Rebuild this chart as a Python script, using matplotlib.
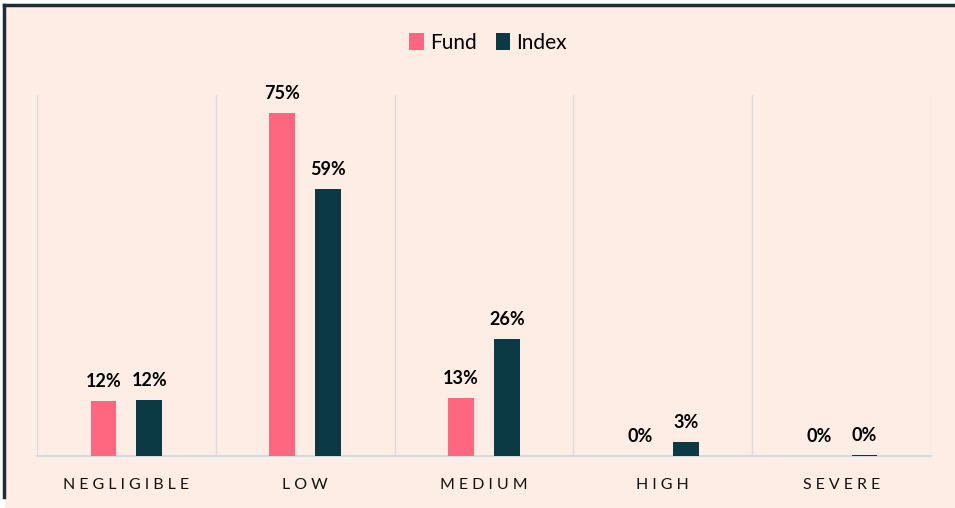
import matplotlib.pyplot as plt
import numpy as np
from matplotlib.patches import Rectangle
from matplotlib.lines import Line2D

categories = ['NEGLIGIBLE', 'LOW', 'MEDIUM', 'HIGH', 'SEVERE']
fund = [12.0, 75.0, 12.6, 0.0, 0.0]
index = [12.2, 58.5, 25.6, 3.1, 0.3]
fund_labels = ['12%', '75%', '13%', '0%', '0%']
index_labels = ['12%', '59%', '26%', '3%', '0%']

FUND_COLOR = '#FF6680'
INDEX_COLOR = '#0B3A44'
BG = '#FDEDE4'

plt.rcParams['font.family'] = ['Lato', 'DejaVu Sans']


def spaced(s):
    return '\u2005'.join(s)


fig = plt.figure(figsize=(9.55, 5.08), dpi=100, facecolor='white')

# peach panel with dark top/left edge
fig.patches.append(Rectangle((5 / 955, 0), 1, 1 - 5 / 508, transform=fig.transFigure,
                             facecolor=BG, edgecolor='none', zorder=-2))
fig.lines.append(Line2D([4 / 955, 1], [1 - 5 / 508, 1 - 5 / 508], transform=fig.transFigure,
                        color='#1E2E38', lw=2.5))
fig.lines.append(Line2D([4 / 955, 4 / 955], [1 - 5 / 508, 1 - 497 / 508], transform=fig.transFigure,
                        color='#1E2E38', lw=2.5))

ax = fig.add_axes([37 / 955, 1 - 456 / 508, (931 - 37) / 955, (456 - 95) / 508])
ax.set_facecolor(BG)

x = np.arange(len(categories))
w = 0.145
off = 0.128
b1 = ax.bar(x - off, fund, w, color=FUND_COLOR, label='Fund', zorder=3)
b2 = ax.bar(x + off, index, w, color=INDEX_COLOR, label='Index', zorder=3)

for bars, labels in ((b1, fund_labels), (b2, index_labels)):
    for bar, lab in zip(bars, labels):
        ax.annotate(lab, (bar.get_x() + bar.get_width() / 2, bar.get_height()),
                    xytext=(0, 8), textcoords='offset points', ha='center', va='bottom',
                    fontsize=13, fontweight='bold', color='black')

ax.set_xlim(-0.5, len(categories) - 0.5)
ax.set_ylim(0, 79)
ax.set_yticks([])
ax.set_xticks(x)
ax.set_xticklabels([spaced(c) for c in categories], fontsize=11.5, color='#111111')
ax.tick_params(axis='x', length=0, pad=16)

for b in np.arange(-0.5, len(categories), 1):
    ax.axvline(b, color='#D9DDE0', lw=1, zorder=1)

for s in ['top', 'left', 'right']:
    ax.spines[s].set_visible(False)
ax.spines['bottom'].set_color('#CFDCE4')
ax.spines['bottom'].set_linewidth(1.5)

fig.legend(loc='center', bbox_to_anchor=(488 / 955, 1 - 43 / 508), ncol=2, frameon=False,
           fontsize=15, handlelength=0.7, handleheight=0.9, handletextpad=0.3,
           columnspacing=0.9)

fig.savefig('out.png', dpi=100, facecolor=fig.get_facecolor())
